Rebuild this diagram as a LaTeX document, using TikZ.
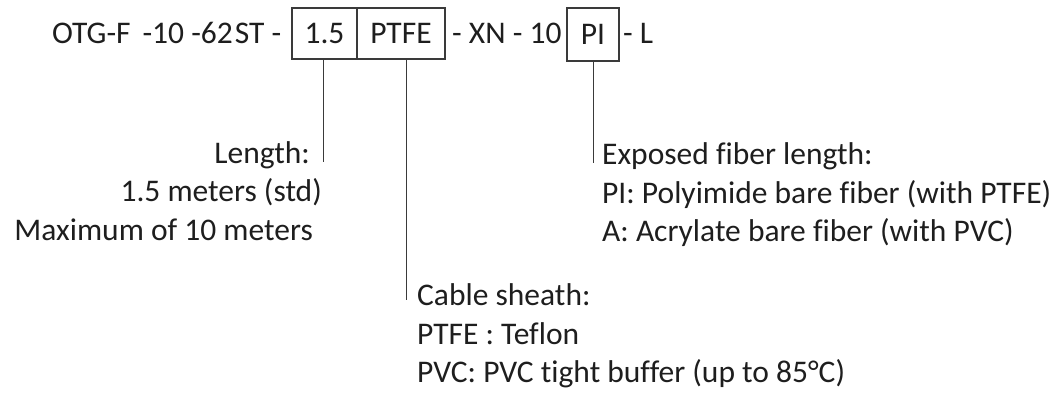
\documentclass[tikz,border=0pt]{standalone}
\usepackage{fontspec}
\setmainfont[Ligatures=NoCommon]{Carlito}
\definecolor{ink}{HTML}{1E1E1E}
\definecolor{rule}{HTML}{3A3A3A}
\tikzset{
  txt/.style={inner sep=0pt, text=ink, font=\fontsize{31.5}{39}\selectfont},
  codebox/.style={draw=rule, line width=1.3pt, inner sep=0pt, minimum height=51pt,
     text height=20pt, text depth=0pt, text=ink, font=\fontsize{31.5}{39}\selectfont},
  leader/.style={draw=rule, line width=1pt},
}
\begin{document}
\begin{tikzpicture}[x=1pt,y=-1pt]
\useasboundingbox (0,0) rectangle (1063,392);
% top code line
\node[txt, anchor=base west] (pre) at (52,43) {OTG-F\hspace{12pt}-10 -62\hspace{2pt}ST -};
\node[codebox, minimum width=65pt] (len) at (324.5,33.5) {1.5};
\node[codebox, minimum width=88pt] (sh) at (401,33.5) {PTFE};
\node[txt, anchor=base west] (mid) at (452,43) {- XN - 10};
\node[codebox, minimum width=52pt, minimum height=53pt] (pi) at (593,34.5) {PI};
\node[txt, anchor=base west] (suf) at (623,43) {- L};
% leader end points
\coordinate (lenend) at (323,162);
\coordinate (shend) at (406,300);
\coordinate (piend) at (593,163);
\draw[leader] (len.south -| lenend) -- (lenend);
\draw[leader] (sh.south -| shend) -- (shend);
\draw[leader] (pi.south -| piend) -- (piend);
% length block
\node[txt, anchor=base east] (l1) at (310,163) {Length:};
\node[txt, anchor=base east] (l2) at (322,201) {1.5 meters (std)};
\node[txt, anchor=base east] (l3) at (313,240) {Maximum of 10 meters};
% exposed fiber block
\node[txt, anchor=base west] (e1) at (602,164) {Exposed fiber length:};
\node[txt, anchor=base west] (e2) at (602,203) {PI: Polyimide bare fiber (with PTFE)};
\node[txt, anchor=base west] (e3) at (602,241) {A: Acrylate bare fiber (with PVC)};
% cable sheath block
\node[txt, anchor=base west] (c1) at (417,305) {Cable sheath:};
\node[txt, anchor=base west] (c2) at (417,344) {PTFE : Teflon};
\node[txt, anchor=base west] (c3) at (417,382) {PVC: PVC tight buffer (up to 85°C)};
\end{tikzpicture}
\end{document}
